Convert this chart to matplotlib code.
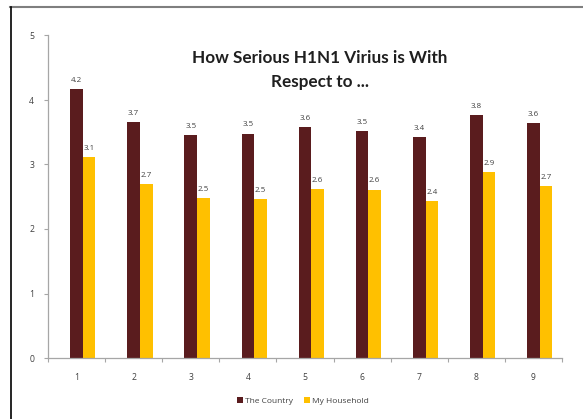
import matplotlib
matplotlib.use('Agg')
import matplotlib.pyplot as plt
from matplotlib.lines import Line2D
from matplotlib.patches import Patch
import numpy as np

#############################################################################
# data

categories = ['1', '2', '3', '4', '5', '6', '7', '8', '9']
the_country = [4.17, 3.66, 3.46, 3.48, 3.58, 3.52, 3.42, 3.77, 3.64]
my_household = [3.12, 2.70, 2.48, 2.46, 2.62, 2.61, 2.43, 2.88, 2.67]
series_names = ['The Country', 'My Household']
title = 'How Serious H1N1 Virius is With\nRespect to ...'

#############################################################################

plt.rcParams['font.family'] = ['Open Sans', 'DejaVu Sans']

c_country = '#5A1C1E'
c_house = '#FFC000'
txt = '#404040'
axis_gray = '#A6A6A6'

W, H = 583, 419
fig = plt.figure(figsize=(W/100., H/100.), dpi=100)
ax = fig.add_axes([48./W, 1-358./H, (562.-48.)/W, (358.-35.5)/H])

x = np.arange(1, len(categories)+1)
bw = 0.22

ax.bar(x, the_country, width=bw, color=c_country, edgecolor='none')
ax.bar(x+bw, my_household, width=bw, color=c_house, edgecolor='none')

for xi, v in zip(x, the_country):
    ax.text(xi, v+0.08, '%.1f' % v, ha='center', va='bottom', fontsize=5.7, color=txt)
for xi, v in zip(x, my_household):
    ax.text(xi+bw, v+0.08, '%.1f' % v, ha='center', va='bottom', fontsize=5.7, color=txt)

ax.set_xlim(0.5, 9.5)
ax.set_ylim(0, 5)
ax.set_yticks([0, 1, 2, 3, 4, 5])
ax.set_xticks(x)
ax.set_xticklabels(categories)
ax.set_xticks(np.arange(0.5, 10.0, 1.0), minor=True)

ax.tick_params(axis='x', which='major', length=0, pad=11, labelsize=6.2, labelcolor=txt)
ax.tick_params(axis='x', which='minor', length=3, color=axis_gray, width=0.8)
ax.tick_params(axis='y', length=3, color=axis_gray, width=0.8, pad=7, labelsize=6.2, labelcolor=txt)

for s in ['top', 'right']:
    ax.spines[s].set_visible(False)
for s in ['left', 'bottom']:
    ax.spines[s].set_color(axis_gray)
    ax.spines[s].set_linewidth(0.9)

fig.text(320./W, 1-70./H, title, ha='center', va='center', fontsize=12.3,
         fontweight='bold', family=['Lato', 'DejaVu Sans'], color='#1F1F1F',
         linespacing=1.55)

handles = [Patch(facecolor=c_country), Patch(facecolor=c_house)]
fig.legend(handles, series_names, loc='center', bbox_to_anchor=(303./W, 1-401./H),
           ncol=2, frameon=False, fontsize=6.0, handlelength=0.7, handleheight=0.7,
           handletextpad=0.3, columnspacing=1.3, labelcolor=txt)

# frame lines of the original slide crop
fig.add_artist(Line2D([10./W, 1.0], [1-7.5/H, 1-7.5/H], color='#7F7F7F', lw=1.5))
fig.add_artist(Line2D([10.5/W, 10.5/W], [0, 1-7.5/H], color='black', lw=1.2))

plt.savefig('out.png', dpi=100)
